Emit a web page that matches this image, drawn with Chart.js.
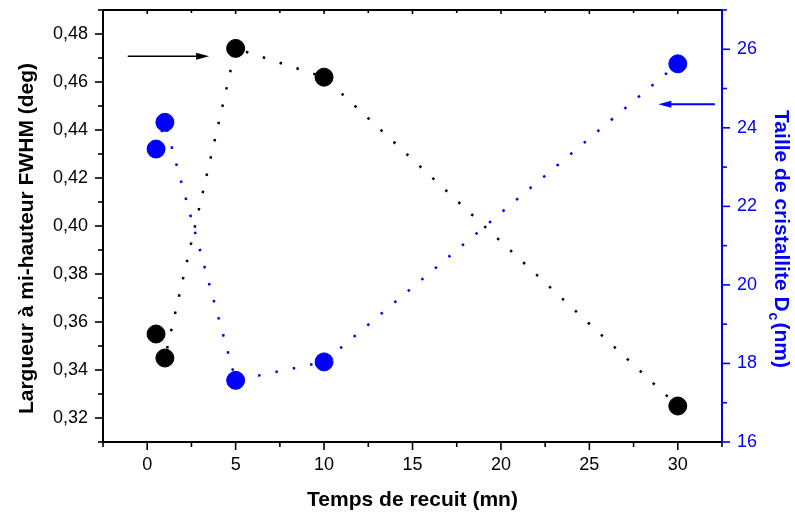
<!DOCTYPE html>
<html><head><meta charset="utf-8">
<script src="https://cdn.jsdelivr.net/npm/chart.js@4.4.1/dist/chart.umd.min.js"></script>
<style>html,body{margin:0;padding:0;background:#fff}#wrap{width:795px;height:516px;position:relative}</style>
</head><body><div id="wrap"><canvas id="c"></canvas></div>
<script>
// ---- data ----
const times = [0.5, 1, 5, 10, 30];
const fwhm = [0.355, 0.345, 0.474, 0.462, 0.325];
const crystalliteSize = [23.46, 24.14, 17.57, 18.04, 25.63];
const xMajorTicks = [0, 5, 10, 15, 20, 25, 30];
const leftMajorTicks = [0.32, 0.34, 0.36, 0.38, 0.40, 0.42, 0.44, 0.46, 0.48];
const rightMajorTicks = [16, 18, 20, 22, 24, 26];
const xTitle = 'Temps de recuit (mn)';
const leftTitle = 'Largueur à mi-hauteur FWHM (deg)';
const rightTitleMain = 'Taille de cristallite D';
const rightTitleSub = 'c';
const rightTitleEnd = '(nm)';

// annotation arrows (data units)
const arrows = [
  {scaleY: 'y', x1: -1.1, x2: 3.5, y: 0.4707, color: '#000', width: 1.5},
  {scaleY: 'y2', x1: 32.1, x2: 28.9, y: 24.6, color: '#0000ff', width: 2}
];

const FONT = "Arial, 'Liberation Sans', sans-serif";
const BLUE = '#0000ff';

function minorsOf(majors, step, lo, hi) {
  const out = [];
  [majors[0] - step].concat(majors).forEach(v => {
    const m = v + step / 2;
    if (m >= lo - 1e-9 && m <= hi + 1e-9) out.push(m);
  });
  return out;
}

function fixAxis(w, h) {
  return function (scale) {
    if (w !== null) scale.width = w;
    if (h !== null) scale.height = h;
    scale.paddingTop = 0; scale.paddingBottom = 0;
    scale.paddingLeft = 0; scale.paddingRight = 0;
  };
}

const decorPlugin = {
  id: 'decor',
  afterDraw(chart) {
    const {ctx, chartArea: a, scales} = chart;
    const sx = scales.x, yl = scales.y, yr = scales.y2;
    ctx.save();
    ctx.lineCap = 'butt';
    const ln = (x1, y1, x2, y2) => { ctx.beginPath(); ctx.moveTo(x1, y1); ctx.lineTo(x2, y2); ctx.stroke(); };

    // black frame parts
    ctx.strokeStyle = '#000'; ctx.lineWidth = 2;
    ln(a.left, a.top, a.left, a.bottom + 1);
    ln(a.left - 1, a.bottom, a.right, a.bottom);
    ln(a.left, a.top, a.right, a.top);
    // x ticks
    ctx.lineWidth = 1.6;
    xMajorTicks.forEach(v => { const p = sx.getPixelForValue(v); ln(p, a.bottom, p, a.bottom + 8); ln(p, a.top, p, a.top + 4); });
    minorsOf(xMajorTicks, 5, sx.min, sx.max).forEach(v => { const p = sx.getPixelForValue(v); ln(p, a.bottom, p, a.bottom + 5); ln(p, a.top, p, a.top + 3); });
    // left ticks
    leftMajorTicks.forEach(v => { const p = yl.getPixelForValue(v); ln(a.left, p, a.left - 8, p); });
    minorsOf(leftMajorTicks, 0.02, yl.min, yl.max).forEach(v => { const p = yl.getPixelForValue(v); ln(a.left, p, a.left - 5, p); });
    // right axis (blue)
    ctx.strokeStyle = BLUE; ctx.lineWidth = 2;
    ln(a.right, a.top - 1, a.right, a.bottom + 1);
    ctx.lineWidth = 1.6;
    rightMajorTicks.forEach(v => { const p = yr.getPixelForValue(v); ln(a.right, p, a.right + 8, p); });
    minorsOf(rightMajorTicks, 2, yr.min, yr.max).forEach(v => { const p = yr.getPixelForValue(v); ln(a.right, p, a.right + 5, p); });

    // arrows
    arrows.forEach(ar => {
      const ys = scales[ar.scaleY];
      const x1 = sx.getPixelForValue(ar.x1), x2 = sx.getPixelForValue(ar.x2), y = ys.getPixelForValue(ar.y);
      const dir = Math.sign(x2 - x1);
      ctx.strokeStyle = ar.color; ctx.fillStyle = ar.color; ctx.lineWidth = ar.width;
      ln(x1, y, x2 - dir * 8, y);
      ctx.beginPath(); ctx.moveTo(x2, y); ctx.lineTo(x2 - dir * 13, y - 3.5); ctx.lineTo(x2 - dir * 13, y + 3.5); ctx.closePath(); ctx.fill();
    });

    // titles
    const midX = (a.left + a.right) / 2;
    ctx.fillStyle = '#000';
    ctx.font = 'bold 21px ' + FONT;
    ctx.textAlign = 'center'; ctx.textBaseline = 'alphabetic';
    ctx.fillText(xTitle, midX, 506);

    ctx.save();
    ctx.translate(33, 238.5);
    ctx.rotate(-Math.PI / 2);
    ctx.fillText(leftTitle, 0, 0);
    ctx.restore();

    // right title with subscript
    ctx.save();
    ctx.fillStyle = BLUE;
    const fMain = 'bold 21px ' + FONT, fSub = 'bold 14px ' + FONT;
    ctx.font = fMain; const w1 = ctx.measureText(rightTitleMain).width;
    const w3 = ctx.measureText(rightTitleEnd).width;
    ctx.font = fSub; const w2 = ctx.measureText(rightTitleSub).width + 3;
    const total = w1 + w2 + w3;
    ctx.translate(775, 239);
    ctx.rotate(Math.PI / 2);
    ctx.textAlign = 'left';
    let x0 = -total / 2;
    ctx.font = fMain; ctx.fillText(rightTitleMain, x0, 0);
    ctx.font = fSub; ctx.fillText(rightTitleSub, x0 + w1 + 1, 6);
    ctx.font = fMain; ctx.fillText(rightTitleEnd, x0 + w1 + w2, 0);
    ctx.restore();

    ctx.restore();
  }
};

new Chart(document.getElementById('c'), {
  type: 'scatter',
  data: {
    datasets: [
      {
        label: 'Taille de cristallite',
        yAxisID: 'y2',
        data: times.map((t, i) => ({x: t, y: crystalliteSize[i]})),
        showLine: true,
        borderColor: BLUE, backgroundColor: BLUE,
        borderWidth: 2.5, borderDash: [2.5, 15.2], tension: 0,
        pointRadius: 9, pointBorderWidth: 1, pointBorderColor: BLUE, pointBackgroundColor: BLUE,
        clip: false
      },
      {
        label: 'FWHM',
        yAxisID: 'y',
        data: times.map((t, i) => ({x: t, y: fwhm[i]})),
        showLine: true,
        borderColor: '#000', backgroundColor: '#000',
        borderWidth: 2.5, borderDash: [2.5, 15.2], tension: 0,
        pointRadius: 9, pointBorderWidth: 1, pointBorderColor: '#000', pointBackgroundColor: '#000',
        clip: false
      }
    ]
  },
  options: {
    responsive: true, maintainAspectRatio: false, animation: false,
    layout: {padding: {left: 0, right: 0, top: 7, bottom: 0}},
    plugins: {legend: {display: false}, tooltip: {enabled: false}},
    scales: {
      x: {
        type: 'linear', position: 'bottom', min: -2.5, max: 32.5,
        grid: {display: false}, border: {display: false},
        afterBuildTicks: s => { s.ticks = xMajorTicks.map(v => ({value: v})); },
        afterFit: fixAxis(null, 74),
        ticks: {color: '#000', font: {family: FONT, size: 18}, padding: 4, maxRotation: 0, autoSkip: false,
          callback: v => String(v)}
      },
      y: {
        type: 'linear', position: 'left', min: 0.31, max: 0.49,
        grid: {display: false}, border: {display: false},
        afterBuildTicks: s => { s.ticks = leftMajorTicks.map(v => ({value: v})); },
        afterFit: fixAxis(103, null),
        ticks: {color: '#000', font: {family: FONT, size: 18}, padding: 7, autoSkip: false,
          callback: v => Number(v).toFixed(2).replace('.', ',')}
      },
      y2: {
        type: 'linear', position: 'right', min: 16, max: 27,
        grid: {display: false}, border: {display: false},
        afterBuildTicks: s => { s.ticks = rightMajorTicks.map(v => ({value: v})); },
        afterFit: fixAxis(73, null),
        ticks: {color: BLUE, font: {family: FONT, size: 18}, padding: 7, autoSkip: false,
          callback: v => String(v)}
      }
    }
  },
  plugins: [decorPlugin]
});
</script>
</body></html>
